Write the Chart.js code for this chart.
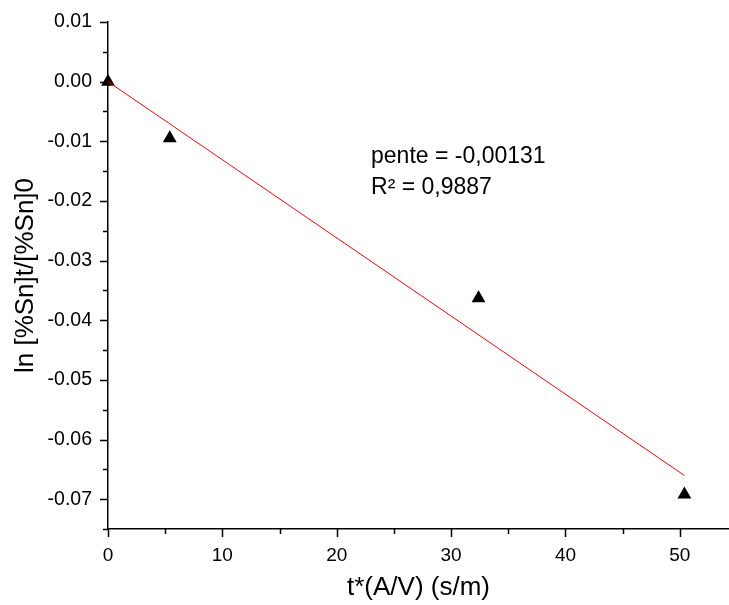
<!DOCTYPE html>
<html>
<head>
<meta charset="utf-8">
<script src="https://cdn.jsdelivr.net/npm/chart.js@4"></script>
<style>
  html, body { margin: 0; padding: 0; background: #fff; }
  #wrap { width: 729px; height: 605px; }
</style>
</head>
<body>
<div id="wrap"><canvas id="myChart" width="729" height="605"></canvas></div>
<script>
// Data
const xValues = [0, 5.4, 32.4, 50.4];
const yValues = [0, -0.0095, -0.0363, -0.0692];
const fitX = [0, 50.4];
const slope = -0.00131;
const xTicks = [0, 10, 20, 30, 40, 50];
const yTicks = [0.01, 0, -0.01, -0.02, -0.03, -0.04, -0.05, -0.06, -0.07];
const annotation = ["pente = -0,00131", "R\u00b2 = 0,9887"];

const fitData = fitX.map(x => ({ x: x, y: slope * x }));
const points = xValues.map((x, i) => ({ x: x, y: yValues[i] }));

const FONT = "'Liberation Sans', Arial, sans-serif";

// Draw major + minor ticks outward, and the text label
const ticksPlugin = {
  id: "originTicks",
  afterDraw(chart) {
    const ctx = chart.ctx;
    const xs = chart.scales.x, ys = chart.scales.y;
    const area = chart.chartArea;
    ctx.save();
    ctx.strokeStyle = "#000";
    ctx.lineWidth = 1.5;
    ctx.beginPath();
    for (let v = 0; v <= xs.max; v += 5) {
      const px = Math.round(xs.getPixelForValue(v)) + 0.5;
      const len = v % 10 === 0 ? 8 : 5;
      ctx.moveTo(px, area.bottom);
      ctx.lineTo(px, area.bottom + len);
    }
    for (let k = 2; k >= -15; k--) {
      const v = k * 0.005;
      if (v < ys.min - 1e-9) break;
      const py = Math.round(ys.getPixelForValue(v)) + 0.5;
      const len = k % 2 === 0 ? 8 : 5;
      ctx.moveTo(area.left, py);
      ctx.lineTo(area.left - len, py);
    }
    ctx.stroke();

    ctx.fillStyle = "#000";
    ctx.font = "23px " + FONT;
    ctx.textAlign = "left";
    ctx.textBaseline = "alphabetic";
    const tx = xs.getPixelForValue(23.0);
    const ty = ys.getPixelForValue(-0.0136);
    ctx.fillText(annotation[0], tx, ty);
    ctx.fillText(annotation[1], tx, ty + 31);
    ctx.restore();
  }
};

const ctx = document.getElementById("myChart").getContext("2d");
new Chart(ctx, {
  type: "scatter",
  data: {
    datasets: [
      {
        type: "line",
        label: "fit",
        data: fitData,
        borderColor: "#ff0000",
        borderWidth: 1,
        pointRadius: 0,
        fill: false
      },
      {
        label: "points",
        data: points,
        pointStyle: "triangle",
        pointRadius: 8,
        backgroundColor: "#000",
        borderColor: "#000",
        borderWidth: 0,
        clip: false
      }
    ]
  },
  options: {
    responsive: false,
    animation: false,
    layout: { autoPadding: false, padding: { top: 22, right: 0, left: 0, bottom: 0 } },
    plugins: {
      legend: { display: false },
      tooltip: { enabled: false }
    },
    scales: {
      x: {
        type: "linear",
        min: 0,
        max: 54.3,
        afterBuildTicks: s => { s.ticks = xTicks.map(v => ({ value: v })); },
        afterFit: s => { s.height = 76; s.paddingLeft = 0; s.paddingRight = 0; },
        grid: { display: false, drawTicks: false },
        border: { display: true, color: "#000", width: 1.5 },
        ticks: {
          color: "#000",
          padding: 15,
          font: { family: FONT, size: 19 },
          callback: v => String(v)
        },
        title: {
          display: true,
          text: "t*(A/V) (s/m)",
          color: "#000",
          font: { family: FONT, size: 26 },
          padding: { top: 0, bottom: 2 }
        }
      },
      y: {
        type: "linear",
        min: -0.075,
        max: 0.01,
        afterBuildTicks: s => { s.ticks = yTicks.map(v => ({ value: v })); },
        afterFit: s => { s.width = 108; s.paddingTop = 0; s.paddingBottom = 0; },
        grid: { display: false, drawTicks: false },
        border: { display: true, color: "#000", width: 1.5 },
        ticks: {
          color: "#000",
          padding: 16,
          font: { family: FONT, size: 19.5 },
          callback: v => (Math.abs(v) < 1e-9 ? 0 : v).toFixed(2)
        },
        title: {
          display: true,
          text: "ln [%Sn]t/[%Sn]0",
          color: "#000",
          font: { family: FONT, size: 26 },
          padding: { top: 10, bottom: 0 }
        }
      }
    }
  },
  plugins: [ticksPlugin]
});
</script>
</body>
</html>
